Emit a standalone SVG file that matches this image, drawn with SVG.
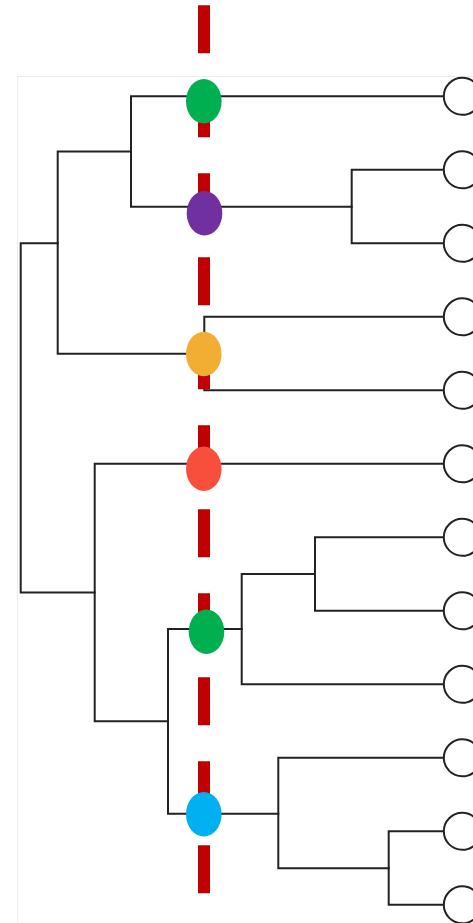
<svg xmlns="http://www.w3.org/2000/svg" width="473" height="923" viewBox="0 0 473 923">
  <style>
    .frame { fill: none; stroke: #ececec; stroke-width: 1; }
    .branch { fill: none; stroke: #222222; stroke-width: 2; stroke-linejoin: miter; stroke-linecap: square; }
    .cut { stroke: #c00000; stroke-width: 12; stroke-dasharray: 48 36; }
    .leaf { fill: #ffffff; stroke: #222222; stroke-width: 2; }
  </style>
  <rect width="473" height="923" fill="#ffffff"/>
  <rect class="frame" x="17.5" y="76.5" width="470" height="860"/>

  <!-- tree branches -->
  <g id="connectors">
    <!-- root -->
    <path class="branch" d="M57.7,243.3 H20.7 V592.5 H94.7"/>
    <!-- upper clade -->
    <path class="branch" d="M131,151.5 H57.7 V353.7 H204.3"/>
    <path class="branch" d="M444,96.3 H131 V206.7 H351.7"/>
    <path class="branch" d="M444,169.8 H351.7 V243.3 H444"/>
    <path class="branch" d="M444,316.8 H204.3 V390.3 H444"/>
    <!-- lower clade -->
    <path class="branch" d="M444,463.8 H94.7 V721.3 H168"/>
    <path class="branch" d="M241.7,629 H168 V813.7 H278.3"/>
    <path class="branch" d="M315,574 H241.7 V684.3 H444"/>
    <path class="branch" d="M444,537.3 H315 V610.8 H444"/>
    <path class="branch" d="M444,757.8 H278.3 V868.3 H388.7"/>
    <path class="branch" d="M444,831.3 H388.7 V904.8 H444"/>
  </g>

  <!-- cut line -->
  <line id="cut-line" class="cut" x1="204" y1="5.3" x2="204" y2="900"/>

  <!-- clade markers -->
  <g id="clade-green-1"><ellipse cx="203.8" cy="101.2" rx="17.8" ry="22.2" fill="#00b050"/></g>
  <g id="clade-purple"><ellipse cx="204.5" cy="213.3" rx="17.8" ry="22.2" fill="#7030a0"/></g>
  <g id="clade-orange"><ellipse cx="203.8" cy="354" rx="17.8" ry="22.2" fill="#f2ae32"/></g>
  <g id="clade-red"><ellipse cx="203.8" cy="468.8" rx="17.8" ry="22.2" fill="#f84e3c"/></g>
  <g id="clade-green-2"><ellipse cx="206.5" cy="631.7" rx="17.8" ry="22.2" fill="#00b050"/></g>
  <g id="clade-blue"><ellipse cx="203.8" cy="814.2" rx="17.8" ry="22.2" fill="#00b0f0"/></g>

  <!-- leaves -->
  <g id="leaf-1"><circle class="leaf" cx="462.3" cy="96.3" r="18.5"/></g>
  <g id="leaf-2"><circle class="leaf" cx="462.3" cy="169.8" r="18.5"/></g>
  <g id="leaf-3"><circle class="leaf" cx="462.3" cy="243.3" r="18.5"/></g>
  <g id="leaf-4"><circle class="leaf" cx="462.3" cy="316.8" r="18.5"/></g>
  <g id="leaf-5"><circle class="leaf" cx="462.3" cy="390.3" r="18.5"/></g>
  <g id="leaf-6"><circle class="leaf" cx="462.3" cy="463.8" r="18.5"/></g>
  <g id="leaf-7"><circle class="leaf" cx="462.3" cy="537.3" r="18.5"/></g>
  <g id="leaf-8"><circle class="leaf" cx="462.3" cy="610.8" r="18.5"/></g>
  <g id="leaf-9"><circle class="leaf" cx="462.3" cy="684.3" r="18.5"/></g>
  <g id="leaf-10"><circle class="leaf" cx="462.3" cy="757.8" r="18.5"/></g>
  <g id="leaf-11"><circle class="leaf" cx="462.3" cy="831.3" r="18.5"/></g>
  <g id="leaf-12"><circle class="leaf" cx="462.3" cy="904.8" r="18.5"/></g>
</svg>
